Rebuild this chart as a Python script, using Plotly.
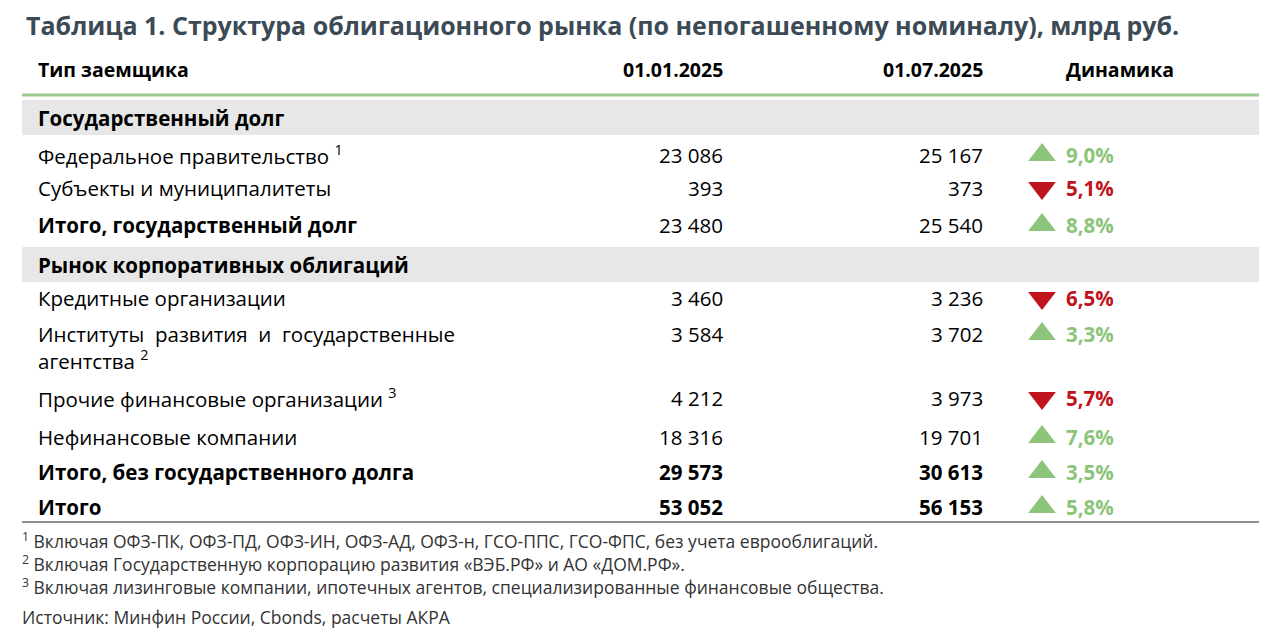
import plotly.graph_objects as go

title = "Таблица 1. Структура облигационного рынка (по непогашенному номиналу), млрд руб."
headers = ["Тип заемщика", "01.01.2025", "01.07.2025", "Динамика"]
labels = ["Государственный долг", "Федеральное правительство <sup>1</sup>", "Субъекты и муниципалитеты",
          "Итого, государственный долг", "Рынок корпоративных облигаций", "Кредитные организации",
          "Институты  развития  и  государственные<br>агентства <sup>2</sup>",
          "Прочие финансовые организации <sup>3</sup>", "Нефинансовые компании",
          "Итого, без государственного долга", "Итого"]
v2025_01 = [None, "23 086", "393", "23 480", None, "3 460", "3 584", "4 212", "18 316", "29 573", "53 052"]
v2025_07 = [None, "25 167", "373", "25 540", None, "3 236", "3 702", "3 973", "19 701", "30 613", "56 153"]
change = [None, 9.0, -5.1, 8.8, None, -6.5, 3.3, -5.7, 7.6, 3.5, 5.8]
section = [True, False, False, False, True, False, False, False, False, False, False]
bold = [True, False, False, True, True, False, False, False, False, True, True]
boldnum = [False, False, False, False, False, False, False, False, False, True, True]
footnotes = ["<sup>1</sup> Включая ОФЗ-ПК, ОФЗ-ПД, ОФЗ-ИН, ОФЗ-АД, ОФЗ-н, ГСО-ППС, ГСО-ФПС, без учета еврооблигаций.",
             "<sup>2</sup> Включая Государственную корпорацию развития «ВЭБ.РФ» и АО «ДОМ.РФ».",
             "<sup>3</sup> Включая лизинговые компании, ипотечных агентов, специализированные финансовые общества."]
source = "Источник: Минфин России, Cbonds, расчеты АКРА"

row_y = [118, 155, 188, 225, 265, 298, 334, 398, 437, 472, 507]
GREEN = "#8cc47a"; RED = "#c0141c"; FONT = "Open Sans"

fig = go.Figure()
shapes = []
ann = []
def A(x, y, t, size=20.5, color="#000", xa="left", b=False, ya="middle"):
    ann.append(dict(x=x, y=y, text=f"<b>{t}</b>" if b else t, showarrow=False, xanchor=xa, yanchor=ya,
                    font=dict(size=size, color=color, family=FONT), align="left"))

A(24, 25, title, size=25, color="#3c4a55", b=True)
A(36, 69, headers[0], b=True, size=19.5)
A(725, 69, headers[1], b=True, xa="right", size=19.5)
A(985, 69, headers[2], b=True, xa="right", size=19.5)
A(1120, 69, headers[3], b=True, xa="center", size=19.5)
shapes.append(dict(type="line", x0=22, x1=1259, y0=95, y1=95, line=dict(color="#9cca8c", width=3)))
tri_x, tri_y, tri_s, tri_c = [], [], [], []
for i, lab in enumerate(labels):
    y = row_y[i]
    if section[i]:
        shapes.append(dict(type="rect", x0=22, x1=1259, y0=y - 18, y1=y + 17, fillcolor="#e6e7e6",
                           line=dict(width=0), layer="below"))
    if "<br>" in lab:
        A(36, y - 16, lab, b=bold[i], ya="top")
    else:
        A(36, y, lab, b=bold[i])
    if v2025_01[i]:
        A(725, y, v2025_01[i], xa="right", b=boldnum[i])
        A(985, y, v2025_07[i], xa="right", b=boldnum[i])
        c = GREEN if change[i] > 0 else RED
        A(1064, y, f"{abs(change[i]):.1f}%".replace(".", ","), color=c, b=True)
        tri_x.append(1042); tri_y.append(y)
        tri_s.append("triangle-up" if change[i] > 0 else "triangle-down"); tri_c.append(c)
fig.add_trace(go.Scatter(x=tri_x, y=tri_y, mode="markers",
                         marker=dict(symbol=tri_s, color=tri_c, size=24), hoverinfo="skip"))
shapes.append(dict(type="line", x0=22, x1=1259, y0=522, y1=522, line=dict(color="#222", width=1.2)))
for k, f in enumerate(footnotes):
    A(20, 540 + 23 * k, f, size=17.5, color="#333")
A(20, 617, source, size=17.5, color="#333")

fig.update_layout(width=1280, height=644, margin=dict(l=0, r=0, t=0, b=0), plot_bgcolor="white",
                  paper_bgcolor="white", showlegend=False, shapes=shapes, annotations=ann,
                  xaxis=dict(range=[8, 1288], visible=False, fixedrange=True),
                  yaxis=dict(range=[652, 8], visible=False, fixedrange=True))
fig.write_html("out.html")
